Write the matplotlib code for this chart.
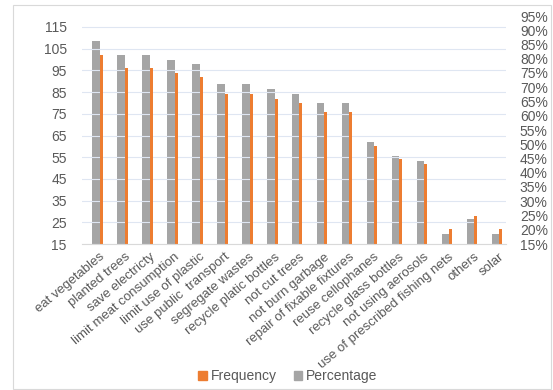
import numpy as np
import matplotlib.pyplot as plt
from matplotlib.patches import Rectangle, Patch

plt.rcParams['font.family'] = ['Liberation Sans', 'DejaVu Sans']

#survey responses per climate action
categories = ['eat vegetables', 'planted trees', 'save electricty', 'limit meat consumption',
              'limit use of plastic', 'use public  transport', 'segregate wastes',
              'recycle platic bottles', 'not cut trees', 'not burn garbage',
              'repair of fixable fixtures', 'reuse cellophanes', 'recycle glass bottles',
              'not using aerosols', 'use of prescribed fishing nets', 'others', 'solar']
frequency = [102, 96, 96, 94, 92, 84, 84, 82, 80, 76, 76, 60, 54, 52, 22, 28, 22]
percentage = [86.4, 81.4, 81.4, 79.7, 78.0, 71.2, 71.2, 69.5, 67.8, 64.4, 64.4,
              50.8, 45.8, 44.1, 18.6, 23.7, 18.6]

left_ticks = [15, 25, 35, 45, 55, 65, 75, 85, 95, 105, 115]
right_ticks = [15, 20, 25, 30, 35, 40, 45, 50, 55, 60, 65, 70, 75, 80, 85, 90, 95]

txt = '#595959'
grey = '#a5a5a5'
orange = '#ed7d31'

fig = plt.figure(figsize=(5.53, 3.9), dpi=100)
fig.patches.append(Rectangle((13 / 553, 1 - 389 / 390), 538 / 553, 384 / 390,
                             transform=fig.transFigure, fill=False,
                             edgecolor='#d9d9d9', linewidth=0.8))

ax = fig.add_axes([82 / 553, 1 - 244 / 390, 424 / 553, 228 / 390])
ax2 = ax.twinx()

x = np.arange(len(categories))
ax2.bar(x + 0.07, percentage, width=0.3, bottom=0, color=grey, zorder=2)
ax.bar(x + 0.28, frequency, width=0.12, color=orange, zorder=2)

ax.set_ylim(15, 115 + 11 / 2.17)
ax.set_yticks(left_ticks)
ax2.set_ylim(15, 95)
ax2.set_yticks(right_ticks)
ax2.set_yticklabels([f'{t}%' for t in right_ticks])
ax.set_xlim(-0.5, len(categories) - 0.5)

ax.set_zorder(ax2.get_zorder() + 1)
ax.patch.set_visible(False)
ax.grid(axis='y', color='#dfe6f2', linewidth=0.8, zorder=0)
ax.set_axisbelow(True)

for a in (ax, ax2):
    for s in a.spines.values():
        s.set_visible(False)
    a.tick_params(axis='y', length=0, labelsize=10, labelcolor=txt)
ax.tick_params(axis='y', pad=11)
ax2.tick_params(axis='y', pad=10)
ax.spines['bottom'].set_visible(True)
ax.spines['bottom'].set_color('#d9d9d9')

ax.set_xticks(x + 0.2)
ax.set_xticklabels(categories, rotation=40, ha='right', rotation_mode='anchor',
                   fontsize=9.5, color=txt)
ax.tick_params(axis='x', length=0, pad=5)
ax2.tick_params(axis='x', length=0)

handles = [Patch(color=orange), Patch(color=grey)]
fig.legend(handles, ['Frequency', 'Percentage'], loc='center', ncol=2,
           bbox_to_anchor=(288 / 553, 1 - 376 / 390), frameon=False,
           fontsize=10, labelcolor=txt, handlelength=0.6, handleheight=0.6,
           handletextpad=0.3, columnspacing=1.2)

fig.savefig('out.png', dpi=100)
